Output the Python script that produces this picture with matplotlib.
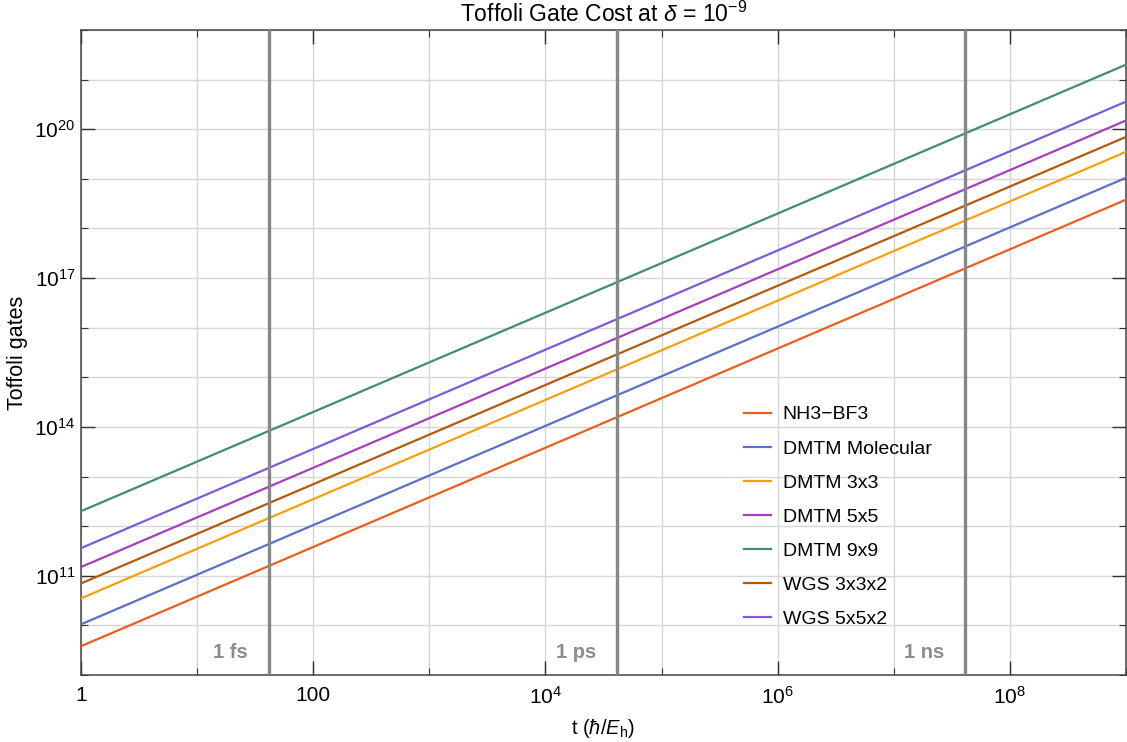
import matplotlib
matplotlib.use("Agg")
import matplotlib.pyplot as plt
from matplotlib.ticker import FixedLocator, FixedFormatter, NullFormatter

plt.rcParams['font.family'] = ['Liberation Sans', 'DejaVu Sans']
plt.rcParams['mathtext.fontset'] = 'custom'
plt.rcParams['mathtext.rm'] = 'Liberation Sans'
plt.rcParams['mathtext.it'] = 'Liberation Sans:italic'
plt.rcParams['mathtext.bf'] = 'Liberation Sans:bold'

# Data: time endpoints (hbar/E_h) and Toffoli counts at those endpoints
t_ends = [1.0, 1e9]
series_names = ["NH3\u2212BF3", "DMTM Molecular", "DMTM 3x3", "DMTM 5x5",
                "DMTM 9x9", "WGS 3x3x2", "WGS 5x5x2"]
nh3_bf3 = [3.8e9, 3.8e18]
dmtm_molecular = [1.05e10, 1.05e19]
dmtm_3x3 = [3.5e10, 3.5e19]
dmtm_5x5 = [1.5e11, 1.5e20]
dmtm_9x9 = [2.0e12, 2.0e21]
wgs_3x3x2 = [7.0e10, 7.0e19]
wgs_5x5x2 = [3.6e11, 3.6e20]
series_values = [nh3_bf3, dmtm_molecular, dmtm_3x3, dmtm_5x5,
                 dmtm_9x9, wgs_3x3x2, wgs_5x5x2]
colors = ["#E95E1D", "#5B70C9", "#F4A00C", "#A63FBE",
          "#408D70", "#B45A0C", "#7F5AD6"]

# Time-unit markers
marker_labels = ["1 fs", "1 ps", "1 ns"]
marker_times = [41.341, 41341.4, 4.13414e7]

x_major = [1, 1e2, 1e4, 1e6, 1e8]
x_major_labels = ["1", "100", r"$10^{4}$", r"$10^{6}$", r"$10^{8}$"]
x_minor = [1e1, 1e3, 1e5, 1e7, 1e9]
y_major = [1e11, 1e14, 1e17, 1e20]
y_major_labels = [r"$10^{11}$", r"$10^{14}$", r"$10^{17}$", r"$10^{20}$"]
y_minor = [1e9, 1e10, 1e12, 1e13, 1e15, 1e16, 1e18, 1e19, 1e21, 1e22]

fig = plt.figure(figsize=(11.27, 7.42), dpi=100)
ax = fig.add_axes([81/1127, 67/742, 1045/1127, 645/742])
ax.set_xscale('log')
ax.set_yscale('log')
ax.set_xlim(1, 1e9)
ax.set_ylim(1e9, 1e22)

# grid
for xv in x_major + x_minor:
    ax.axvline(xv, color="#d6d6d6", lw=1.0, zorder=0)
for yv in y_major + y_minor:
    ax.axhline(yv, color="#d6d6d6", lw=1.0, zorder=0)

for name, vals, c in zip(series_names, series_values, colors):
    ax.plot(t_ends, vals, color=c, lw=1.6, label=name, zorder=3)

for lab, tv in zip(marker_labels, marker_times):
    ax.axvline(tv, color="#888888", lw=2.4, zorder=4)
    ax.annotate(lab, xy=(tv, 10**9.45), xytext=(-15, 0), textcoords='offset points',
                ha='right', va='center', color="#8c8c8c", fontsize=14.5,
                fontweight='bold')

ax.xaxis.set_major_locator(FixedLocator(x_major))
ax.xaxis.set_major_formatter(FixedFormatter(x_major_labels))
ax.xaxis.set_minor_locator(FixedLocator(x_minor))
ax.xaxis.set_minor_formatter(NullFormatter())
ax.yaxis.set_major_locator(FixedLocator(y_major))
ax.yaxis.set_major_formatter(FixedFormatter(y_major_labels))
ax.yaxis.set_minor_locator(FixedLocator(y_minor))
ax.yaxis.set_minor_formatter(NullFormatter())

ax.tick_params(which='both', direction='in', top=True, right=True,
               color="#333333", labelsize=15, labelcolor='black')
ax.tick_params(which='major', length=10, width=1.0)
ax.tick_params(axis='x', which='major', pad=8)
ax.tick_params(axis='y', which='major', pad=4)
ax.tick_params(which='minor', length=5, width=0.8)
for sp in ax.spines.values():
    sp.set_color("#444444")
    sp.set_linewidth(1.1)

ax.set_title(r"Toffoli Gate Cost at $\delta$ = $10^{-9}$", fontsize=16.5, pad=6)
fig.text(603/1127, 1 - 729/742, r"t ($\hbar$/$E_{\mathrm{h}}$)", fontsize=14.5,
         ha='center', va='center')
fig.text(18/1127, 1 - 353/742, "Toffoli gates", fontsize=15.5, rotation=90,
         ha='center', va='center')

leg = ax.legend(loc='upper left', bbox_to_anchor=(736/1127, (742-398)/742),
                bbox_transform=fig.transFigure, frameon=False, fontsize=14,
                handlelength=1.4, handletextpad=0.6, labelspacing=0.85,
                borderaxespad=0)
for h in leg.get_lines():
    h.set_linewidth(1.6)

fig.savefig("out.png", dpi=100)
